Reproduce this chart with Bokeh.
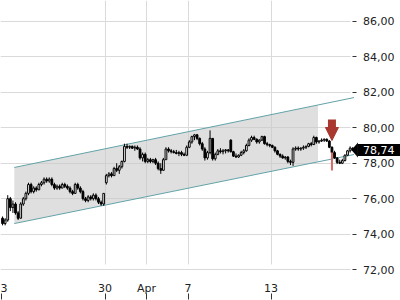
from bokeh.plotting import figure
from bokeh.models import (Range1d, FixedTicker, Label, Arrow,
                          NormalHead, PolyAnnotation, ColumnDataSource)
from bokeh.embed import file_html
from bokeh.resources import INLINE

# ---------------- data ----------------
day_ticks = [0, 5, 7, 9, 13]
day_labels = ["3", "30", "Apr", "7", "13"]
n_days = 17
bars_per_day = 8

opens = [
    74.9, 74.6, 74.8, 76.0, 75.5, 75.7, 75.2, 74.9,
    75.7, 76.0, 76.3, 76.8, 76.4, 76.6, 76.5, 76.8,
    76.9, 77.1, 77.0, 77.1, 76.8, 76.6, 76.7, 76.6,
    76.8, 76.7, 76.6, 76.4, 76.3, 76.8, 76.6, 76.4,
    76.0, 75.9, 76.1, 76.0, 76.2, 76.0, 75.8, 75.7,
    76.9, 77.3, 77.4, 77.3, 77.7, 77.6, 77.8, 78.1,
    78.95, 78.9, 78.95, 78.85, 78.9, 78.8, 78.3, 78.5,
    78.1, 78.2, 78.1, 78.2, 78.0, 77.7, 77.6, 78.2,
    78.8, 78.7, 78.65, 78.6, 78.55, 78.6, 78.5, 78.45,
    78.9, 79.2, 79.5, 79.6, 79.4, 79.1, 78.8, 78.3,
    78.6, 79.4, 78.25, 78.5, 78.7, 78.65, 78.7, 78.75,
    79.3, 78.65, 78.4, 78.35, 78.45, 78.6, 78.7, 79.0,
    79.3, 79.45, 79.35, 79.2, 79.3, 79.5, 79.1, 79.05,
    79.0, 78.9, 78.7, 78.5, 78.4, 78.3, 78.35, 78.1,
    78.05, 78.8, 78.85, 78.8, 78.85, 78.9, 78.95, 79.1,
    79.05, 79.45, 79.2, 79.25, 79.3, 79.35, 79.25, 78.9,
    78.6, 78.3, 78.05, 78.0, 78.15, 78.45, 78.7, 78.85,
]
highs = [
    75.0, 74.9, 76.2, 76.1, 75.9, 75.8, 75.3, 75.8,
    76.1, 76.4, 76.9, 76.9, 76.7, 76.7, 76.9, 77.0,
    77.2, 77.2, 77.2, 77.2, 76.9, 76.8, 76.8, 76.9,
    76.9, 76.8, 76.7, 76.5, 76.9, 76.9, 76.7, 76.5,
    76.1, 76.2, 76.2, 76.3, 76.3, 76.1, 75.9, 76.3,
    77.4, 77.5, 77.5, 77.8, 78.0, 77.9, 78.15, 79.1,
    79.1, 79.0, 79.0, 79.0, 79.0, 78.9, 78.6, 78.6,
    78.3, 78.3, 78.25, 78.3, 78.1, 78.0, 78.3, 78.9,
    78.9, 78.8, 78.75, 78.75, 78.7, 78.7, 78.6, 79.0,
    79.3, 79.55, 79.65, 79.65, 79.45, 79.2, 78.9, 78.7,
    79.85, 79.4, 78.6, 78.8, 78.85, 78.8, 78.8, 78.8,
    79.35, 78.7, 78.55, 78.5, 78.7, 78.8, 79.1, 79.4,
    79.55, 79.55, 79.4, 79.35, 79.55, 79.55, 79.2, 79.1,
    79.05, 78.95, 78.75, 78.55, 78.5, 78.4, 78.4, 78.2,
    78.9, 78.95, 78.95, 78.9, 79.0, 79.0, 79.15, 79.2,
    79.55, 79.5, 79.3, 79.4, 79.4, 79.4, 79.3, 78.95,
    78.7, 78.35, 78.2, 78.25, 78.5, 78.75, 78.95, 78.9,
]
lows = [
    74.5, 74.5, 74.7, 75.3, 75.2, 75.1, 74.8, 74.9,
    75.6, 75.9, 76.2, 76.3, 76.3, 76.4, 76.5, 76.7,
    76.8, 76.9, 76.9, 76.7, 76.5, 76.5, 76.5, 76.6,
    76.6, 76.5, 76.3, 76.2, 76.3, 76.5, 76.3, 75.9,
    75.8, 75.8, 75.9, 75.9, 75.9, 75.7, 75.6, 75.6,
    76.8, 77.2, 77.2, 77.3, 77.5, 77.4, 77.7, 78.05,
    78.8, 78.8, 78.8, 78.7, 78.75, 78.2, 78.1, 78.0,
    78.0, 78.0, 78.0, 77.9, 77.6, 77.4, 77.6, 78.2,
    78.6, 78.55, 78.55, 78.5, 78.4, 78.4, 78.4, 78.4,
    78.85, 79.1, 79.3, 79.3, 79.0, 78.7, 78.15, 78.2,
    78.5, 78.15, 78.15, 78.45, 78.55, 78.5, 78.55, 78.6,
    78.6, 78.35, 78.3, 78.3, 78.4, 78.5, 78.65, 78.95,
    79.2, 79.3, 79.1, 79.1, 79.25, 79.05, 78.95, 78.9,
    78.85, 78.6, 78.45, 78.3, 78.25, 78.2, 78.0, 77.9,
    77.85, 78.7, 78.7, 78.7, 78.75, 78.8, 78.9, 78.95,
    79.05, 79.1, 79.1, 79.2, 79.2, 79.2, 78.85, 78.5,
    78.25, 77.95, 77.95, 77.95, 78.1, 78.4, 78.6, 78.7,
]
closes = [
    74.6, 74.8, 76.0, 75.5, 75.7, 75.2, 74.9, 75.7,
    76.0, 76.3, 76.8, 76.4, 76.6, 76.5, 76.8, 76.9,
    77.1, 77.0, 77.1, 76.8, 76.6, 76.7, 76.6, 76.8,
    76.7, 76.6, 76.4, 76.3, 76.8, 76.6, 76.4, 76.0,
    75.9, 76.1, 76.0, 76.2, 76.0, 75.8, 75.7, 76.3,
    77.3, 77.4, 77.3, 77.7, 77.6, 77.8, 78.1, 78.95,
    78.9, 78.95, 78.85, 78.9, 78.8, 78.3, 78.5, 78.1,
    78.2, 78.1, 78.2, 78.0, 77.7, 77.6, 78.2, 78.8,
    78.7, 78.65, 78.6, 78.55, 78.6, 78.5, 78.45, 78.9,
    79.2, 79.5, 79.6, 79.4, 79.1, 78.8, 78.3, 78.6,
    79.4, 78.25, 78.5, 78.7, 78.65, 78.7, 78.75, 78.7,
    78.65, 78.4, 78.35, 78.45, 78.6, 78.7, 79.0, 79.3,
    79.45, 79.35, 79.2, 79.3, 79.5, 79.1, 79.05, 79.0,
    78.9, 78.7, 78.5, 78.4, 78.3, 78.35, 78.1, 78.05,
    78.8, 78.85, 78.8, 78.85, 78.9, 78.95, 79.1, 79.05,
    79.45, 79.2, 79.25, 79.3, 79.35, 79.25, 78.9, 78.6,
    78.3, 78.05, 78.0, 78.15, 78.45, 78.7, 78.85, 78.74,
]

price_ticks = [72, 74, 76, 78, 80, 82, 84, 86]
price_labels = ["72,00", "74,00", "76,00", "78,00", "80,00", "82,00", "84,00", "86,00"]

# trend channel (x in trading days)
channel_x = [0.629, 17.0]
channel_upper = [77.76, 81.70]
channel_lower = [74.60, 78.49]
zone_x = [0.629, 15.265]
zone_upper = [77.76, 81.28]
zone_lower = [74.60, 78.08]

# sell signal
signal_bar = 127
signal_low, signal_high = 77.59, 78.60
arrow_top, arrow_tip = 80.46, 79.28

last_price = 78.74
last_label = "78,74"

# ---------------- styling / layout ----------------
FONT = "DejaVu Sans"
TXT = "#222222"
GRID = "#dadada"
TEAL = "#62a3a8"
ARROW_RED = "#a8382f"
SIG_RED = "#d66a66"

PX_PER_DAY = 20.75
X0 = -0.75 / PX_PER_DAY
X1 = X0 + 400 / PX_PER_DAY
PX_PER_UNIT = 17.745
Y1 = 87.17
FRAME_H = 293
Y0 = Y1 - FRAME_H / PX_PER_UNIT
axis_x = 16.95      # where the price scale sits
grid_end = 16.85    # where the horizontal grid lines stop
vgrid_bottom = 72.29

xs = [(i + 0.5) / bars_per_day for i in range(len(closes))]
up = [c >= o for o, c in zip(opens, closes)]
src = ColumnDataSource(dict(
    x=xs, o=opens, h=highs, l=lows, c=closes,
    top=[max(o, c) for o, c in zip(opens, closes)],
    bot=[min(o, c) for o, c in zip(opens, closes)],
    fill=["white" if u else "black" for u in up],
))

p = figure(width=400, height=300, x_range=Range1d(X0, X1), y_range=Range1d(Y0, Y1),
           output_backend="svg", toolbar_location=None,
           y_axis_location="right",
           min_border_left=0, min_border_top=0, min_border_right=0,
           min_border_bottom=300 - FRAME_H)
p.outline_line_color = None
p.background_fill_color = "white"
p.border_fill_color = "white"

# grids
p.xgrid.ticker = FixedTicker(ticks=day_ticks[1:])
p.xgrid.cross_bounds = (vgrid_bottom, Y1)
p.ygrid.ticker = FixedTicker(ticks=price_ticks)
p.ygrid.cross_bounds = (X0, grid_end)
for g in (p.xgrid, p.ygrid):
    g.grid_line_color = GRID
    g.grid_line_width = 1

# price scale, placed inside the frame at axis_x
ya = p.yaxis[0]
ya.fixed_location = axis_x
ya.ticker = FixedTicker(ticks=price_ticks)
ya.major_label_overrides = {t: s for t, s in zip(price_ticks, price_labels)}
ya.axis_line_color = None
ya.major_tick_out = 4
ya.major_tick_in = 0
ya.major_tick_line_color = "#333333"
ya.minor_tick_line_color = None
ya.major_label_standoff = 6
ya.major_label_text_font = FONT
ya.major_label_text_font_size = "11px"
ya.major_label_text_color = TXT

# x axis: ticks hang below, labels sit above the ticks (negative standoff)
xa = p.xaxis[0]
xa.ticker = FixedTicker(ticks=day_ticks)
xa.major_label_overrides = {t: s for t, s in zip(day_ticks, day_labels)}
xa.axis_line_color = None
xa.major_tick_out = 6
xa.major_tick_in = 0
xa.major_tick_line_color = "#333333"
xa.minor_tick_line_color = None
xa.major_label_standoff = -18
xa.major_label_text_font = FONT
xa.major_label_text_font_size = "11px"
xa.major_label_text_color = TXT

# channel zone and lines
p.varea(x=zone_x, y1=zone_lower, y2=zone_upper, fill_color="#c9c9c9", fill_alpha=0.6)
p.line(channel_x, channel_upper, line_color=TEAL, line_width=1)
p.line(channel_x, channel_lower, line_color=TEAL, line_width=1)

# candles
p.segment(x0="x", y0="l", x1="x", y1="h", source=src, line_color="black", line_width=1)
p.vbar(x="x", width=0.085, top="top", bottom="bot", source=src,
       fill_color="fill", line_color="black", line_width=1)

# signal
sx = xs[signal_bar]
p.segment(x0=[sx], y0=[signal_low], x1=[sx], y1=[signal_high],
          line_color=SIG_RED, line_width=2)
p.add_layout(Arrow(end=NormalHead(size=13, fill_color=ARROW_RED, line_color=ARROW_RED, line_width=1),
                   x_start=sx, y_start=arrow_top, x_end=sx, y_end=arrow_tip,
                   line_width=8, line_color=ARROW_RED))

# last price tag
tip_back = 1.5 / PX_PER_DAY
tip_w = 5.0 / PX_PER_DAY
half_h = 7.5 / PX_PER_UNIT
p.add_layout(PolyAnnotation(xs=[axis_x - tip_back, axis_x + tip_w, axis_x + tip_w],
                            ys=[last_price, last_price + half_h, last_price - half_h],
                            fill_color="black", fill_alpha=1, line_color=None))
p.add_layout(Label(x=axis_x, y=last_price, x_offset=5, text=last_label,
                   text_align="left", text_baseline="middle",
                   text_font=FONT, text_font_size="11px", text_color="white",
                   background_fill_color="black",
                   padding=dict(left=5, right=12, top=2, bottom=2)))

open("out.html", "w").write(file_html(p, INLINE))
